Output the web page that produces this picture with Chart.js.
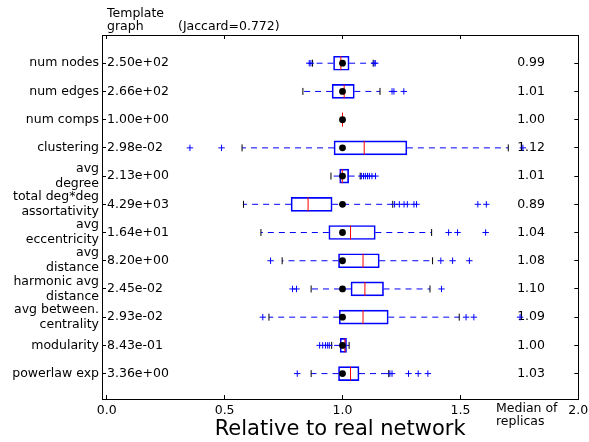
<!DOCTYPE html>
<html><head><meta charset="utf-8">
<script src="https://cdn.jsdelivr.net/npm/chart.js@4/dist/chart.umd.min.js"></script>
<style>html,body{margin:0;padding:0;background:#fff;}</style>
</head><body>
<canvas id="c" width="589" height="442"></canvas>
<script>
// ---- data ----
const categories = ["num nodes","num edges","num comps","clustering",["avg","degree"],["total deg*deg","assortativity"],["avg","eccentricity"],["avg","distance"],["harmonic avg","distance"],["avg between.","centrality"],"modularity","powerlaw exp"];
const templateValues = ["2.50e+02","2.66e+02","1.00e+00","2.98e-02","2.13e+00","4.29e+03","1.64e+01","8.20e+00","2.45e-02","2.93e-02","8.43e-01","3.36e+00"];
const medianLabels = ["0.99","1.01","1.00","1.12","1.01","0.89","1.04","1.08","1.10","1.09","1.00","1.03"];
const q1Values     = [0.962,0.956,1.000,0.964,0.988,0.782,0.942,0.983,1.036,0.986,0.990,0.983];
const q3Values     = [1.028,1.050,1.000,1.273,1.026,0.956,1.139,1.156,1.174,1.194,1.017,1.070];
const medianValues = [0.993,1.007,1.000,1.092,0.999,0.854,1.034,1.087,1.095,1.087,1.010,1.034];
const lowCaps      = [0.873,0.832,1.000,0.574,0.951,0.580,0.654,0.744,0.867,0.688,0.954,0.867];
const highCaps     = [1.130,1.159,1.000,1.703,1.075,1.213,1.378,1.382,1.371,1.495,1.028,1.196];
const fliers = [
  [0.859,0.866,1.134,1.139],
  [1.210,1.218,1.260],
  [],
  [0.353,0.487,1.765],
  [1.080,1.089,1.097,1.106,1.114,1.125,1.140],
  [1.221,1.241,1.261,1.275,1.303,1.314,1.574,1.610],
  [1.450,1.488,1.607],
  [0.695,1.417,1.467,1.538],
  [0.788,0.805,1.420],
  [0.662,1.524,1.557,1.753],
  [0.903,0.916,0.928,0.937,0.944],
  [0.808,1.201,1.210,1.280,1.321,1.362]
];
const realValues = [1,1,1,1,1,1,1,1,1,1,1,1];
const xTicks = [0.0,0.5,1.0,1.5,2.0];
const rowTicks = categories.map((_, i) => i + 1);

// ---- build datasets ----
const FONT = {family: '"DejaVu Sans"', size: 12.5};
const BLUE = '#0000ff';
const whiskerPts = [];
const capPts = [];
const boxPts = [];
const medPts = [];
const flierPts = [];
const dotPts = [];
categories.forEach((c, i) => {
  const y = i + 1;
  whiskerPts.push({x: q1Values[i], y}, {x: lowCaps[i], y}, {x: NaN, y: NaN},
                  {x: q3Values[i], y}, {x: highCaps[i], y}, {x: NaN, y: NaN});
  capPts.push({x: lowCaps[i], y}, {x: highCaps[i], y});
  boxPts.push({x: [q1Values[i], q3Values[i]], y});
  medPts.push({x: medianValues[i], y});
  fliers[i].forEach(v => flierPts.push({x: v, y}));
  dotPts.push({x: realValues[i], y});
});

const tickBuilder = vals => s => { s.ticks = vals.map(v => ({value: v})); };
const noPad = s => { s.paddingLeft = 0; s.paddingRight = 0; s.paddingTop = 0; s.paddingBottom = 0; };

const textPlugin = {
  id: 'extraText',
  afterDraw(chart) {
    const ctx = chart.ctx;
    ctx.save();
    ctx.fillStyle = '#000';
    ctx.font = '12.5px "DejaVu Sans"';
    ctx.textAlign = 'left';
    ctx.textBaseline = 'alphabetic';
    ctx.fillText('Template', 107, 16.5);
    ctx.fillText('graph', 107, 30);
    ctx.fillText('(Jaccard=0.772)', 178, 30);
    ctx.fillText('Median of', 496, 412.3);
    ctx.fillText('replicas', 496, 424.5);
    ctx.restore();
  }
};

Chart.defaults.font.family = '"DejaVu Sans"';
Chart.defaults.color = '#000';

const yCommon = {type: 'linear', reverse: true, min: 0, max: 12.9, offset: false,
                 afterBuildTicks: tickBuilder(rowTicks)};

new Chart(document.getElementById('c'), {
  type: 'scatter',
  data: {
    datasets: [
      {type: 'scatter', data: whiskerPts, showLine: true, pointRadius: 0, borderColor: BLUE,
       borderWidth: 1, borderDash: [6, 5], order: 6},
      {type: 'bar', indexAxis: 'y', data: boxPts, barThickness: 14, borderColor: BLUE, borderWidth: 1,
       backgroundColor: 'rgba(0,0,0,0)', borderSkipped: false, grouped: false, order: 5},
      {type: 'scatter', data: capPts, pointStyle: 'line', rotation: 90, pointRadius: 3.5,
       borderColor: '#000', borderWidth: 1, order: 4},
      {type: 'scatter', data: medPts, pointStyle: 'line', rotation: 90, pointRadius: 7,
       borderColor: '#ff0000', borderWidth: 1, order: 3},
      {type: 'scatter', data: flierPts, pointStyle: 'cross', pointRadius: 3.2,
       borderColor: BLUE, borderWidth: 1, order: 2},
      {type: 'scatter', data: dotPts, pointStyle: 'circle', pointRadius: 3.4,
       backgroundColor: '#000', borderColor: '#000', borderWidth: 0, order: 1}
    ]
  },
  options: {
    responsive: false,
    animation: false,
    devicePixelRatio: 1,
    events: [],
    layout: {padding: {top: 35, right: 10.7, left: 0, bottom: 0}},
    plugins: {legend: {display: false}, tooltip: {enabled: false}},
    scales: {
      x: {
        type: 'linear', position: 'bottom', min: -0.02, max: 2.0, offset: false,
        afterBuildTicks: tickBuilder(xTicks),
        ticks: {callback: v => v.toFixed(1), font: FONT, color: '#000', padding: 8, maxRotation: 0, autoSkip: false},
        grid: {drawOnChartArea: false, tickLength: -4, color: '#000', offset: false},
        border: {color: '#000', width: 1},
        title: {display: true, text: 'Relative to real network', font: {family: '"DejaVu Sans"', size: 21}, color: '#000', padding: 0},
        afterFit: s => { s.height = 43; noPad(s); }
      },
      x2: {
        type: 'linear', position: 'top', min: -0.02, max: 2.0, offset: false,
        afterBuildTicks: tickBuilder(xTicks),
        ticks: {display: false},
        grid: {drawOnChartArea: false, tickLength: -4, color: '#000', offset: false},
        border: {color: '#000', width: 1},
        afterFit: s => { s.height = 0; noPad(s); }
      },
      y: Object.assign({}, yCommon, {
        position: 'left', weight: 1,
        ticks: {callback: v => categories[v - 1], font: FONT, color: '#000', padding: 3, autoSkip: false},
        grid: {display: false, drawTicks: false, offset: false},
        border: {color: '#000', width: 1},
        afterFit: s => { s.width = 102; noPad(s); }
      }),
      yv: Object.assign({}, yCommon, {
        position: 'left', weight: 0,
        ticks: {callback: v => templateValues[v - 1], font: FONT, color: '#000', mirror: true, padding: 5, autoSkip: false},
        grid: {drawOnChartArea: false, tickLength: -4, color: '#000', offset: false},
        border: {color: '#000', width: 1},
        afterFit: s => { s.width = 0; noPad(s); }
      }),
      yr: Object.assign({}, yCommon, {
        position: 'right',
        ticks: {callback: v => medianLabels[v - 1], font: FONT, color: '#000', mirror: true, padding: -33.3, autoSkip: false},
        grid: {drawOnChartArea: false, tickLength: -4, color: '#000', offset: false},
        border: {color: '#000', width: 1},
        afterFit: s => { s.width = 0; noPad(s); }
      })
    }
  },
  plugins: [textPlugin]
});
</script>
</body></html>
